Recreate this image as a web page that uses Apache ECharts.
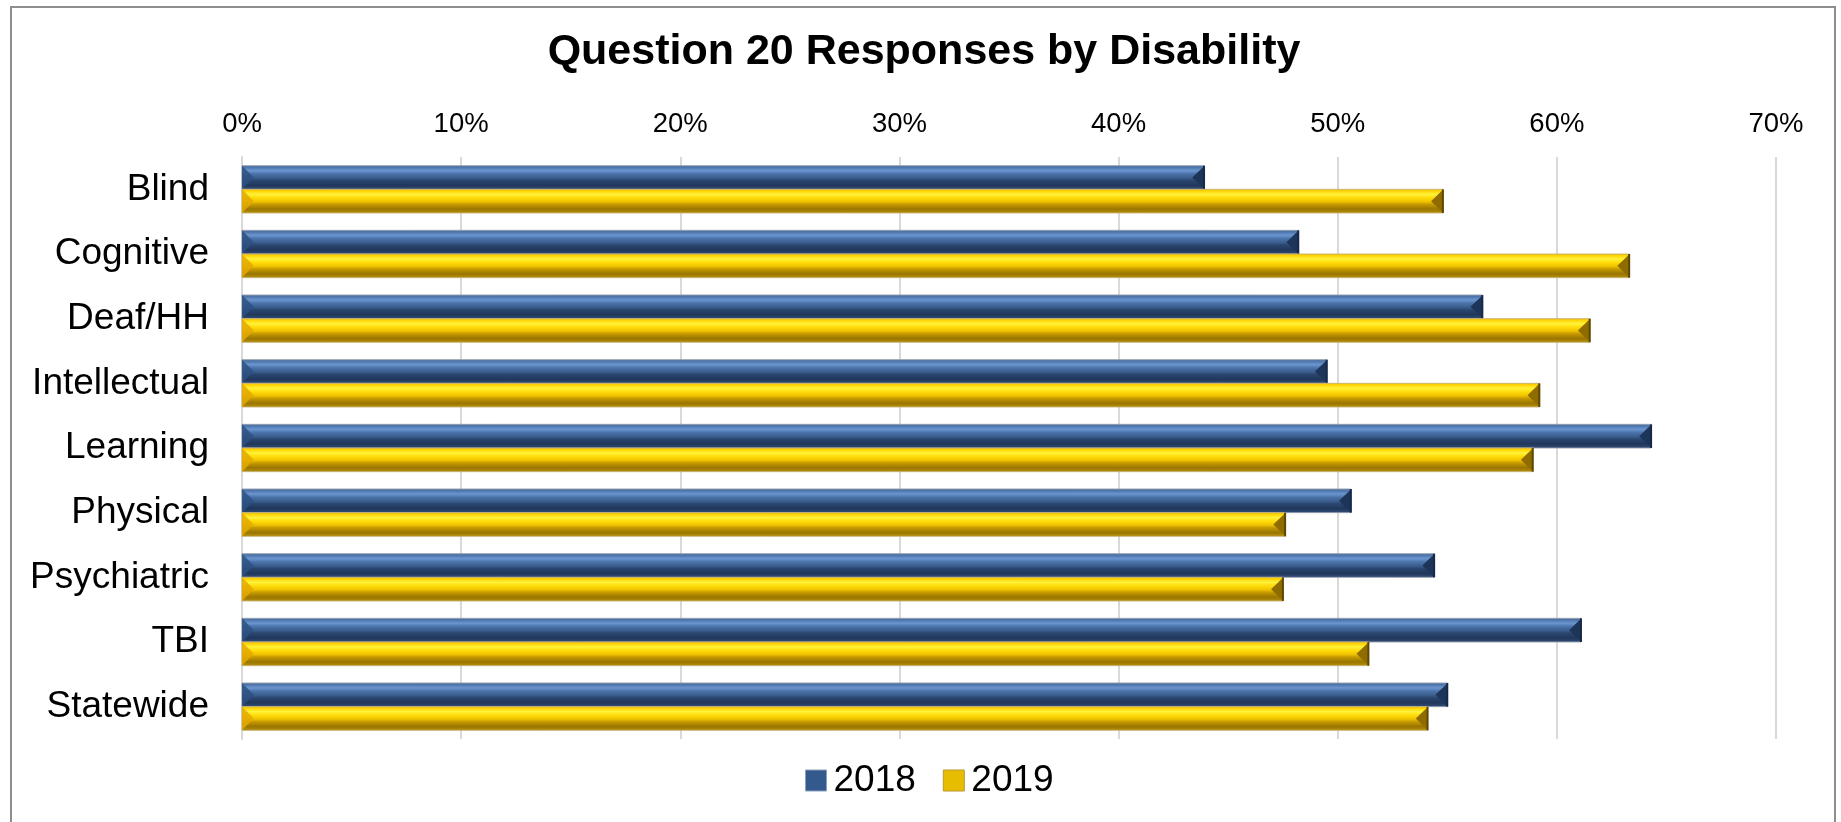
<!DOCTYPE html>
<html>
<head>
<meta charset="utf-8">
<title>Question 20 Responses by Disability</title>
<script src="https://cdn.jsdelivr.net/npm/echarts@6/dist/echarts.min.js"></script>
<style>
  html, body { margin: 0; padding: 0; background: #ffffff; }
  #chart { width: 1841px; height: 822px; }
</style>
</head>
<body>
<div id="chart"></div>
<script>
// Disability groups, top to bottom
const categories = ['Blind', 'Cognitive', 'Deaf/HH', 'Intellectual', 'Learning', 'Physical', 'Psychiatric', 'TBI', 'Statewide'];

// Share of respondents (%) per year
const values2018 = [43.9, 48.2, 56.6, 49.5, 64.3, 50.6, 54.4, 61.1, 55.0];
const values2019 = [54.8, 63.3, 61.5, 59.2, 58.9, 47.6, 47.5, 51.4, 54.1];

const seriesNames = ['2018', '2019'];

// Percentage axis range
const axisMax = 70;
const axisStep = 10;

const FONT = "'Liberation Sans', Arial, sans-serif";

const palettes = {
  blue: {
    body: [
      [0.00, '#4a6c9c'],
      [0.08, '#4d74aa'],
      [0.22, '#6a95cf'],
      [0.36, '#4a72a8'],
      [0.52, '#3a5d8c'],
      [0.62, '#2a4670'],
      [0.82, '#21375a'],
      [1.00, '#34507a']
    ],
    leftCap: '#2d5184',
    rightCap: '#1d3559',
    endLine: '#16294a',
    edge: 'rgba(150,160,175,0.9)',
    legend: '#34598c'
  },
  gold: {
    body: [
      [0.00, '#e8b800'],
      [0.08, '#ffd200'],
      [0.22, '#fff23a'],
      [0.36, '#ffdc0a'],
      [0.52, '#f0c400'],
      [0.62, '#c99c00'],
      [0.82, '#9a7600'],
      [1.00, '#b8900c']
    ],
    leftCap: '#e3a900',
    rightCap: '#8f6c00',
    endLine: '#5e4700',
    edge: 'rgba(200,180,120,0.9)',
    legend: '#e6bd00'
  }
};

// Bevelled bar drawn from the axis scales; side -1 sits above the band centre, +1 below
function bevelBar(side, pal) {
  return function (params, api) {
    const v = api.value(0);
    const idx = api.value(1);
    const start = api.coord([0, idx]);
    const end = api.coord([v, idx]);
    const band = api.size([0, 1])[1];
    const h = band * 0.366;
    const y0 = side < 0 ? start[1] - h : start[1];
    const y1 = y0 + h;
    const ym = y0 + h / 2;
    const x0 = start[0];
    const x1 = end[0];
    const bev = h * 0.5;
    return {
      type: 'group',
      children: [
        {
          type: 'rect',
          shape: { x: x0, y: y0, width: x1 - x0, height: h },
          style: {
            fill: new echarts.graphic.LinearGradient(0, 0, 0, 1,
              pal.body.map(s => ({ offset: s[0], color: s[1] }))),
            stroke: pal.edge,
            lineWidth: 1
          }
        },
        {
          type: 'polygon',
          shape: { points: [[x0, y0], [x0 + bev, ym], [x0, y1]] },
          style: { fill: pal.leftCap, opacity: 0.85 }
        },
        {
          type: 'polygon',
          shape: { points: [[x1, y0 + 0.5], [x1 - bev, ym], [x1, y1 - 0.5]] },
          style: { fill: pal.rightCap }
        },
        {
          type: 'line',
          shape: { x1: x1, y1: y0, x2: x1, y2: y1 },
          style: { stroke: pal.endLine, lineWidth: 2 }
        }
      ]
    };
  };
}

const chart = echarts.init(document.getElementById('chart'), null, { renderer: 'canvas' });

chart.setOption({
  backgroundColor: '#ffffff',
  animation: false,
  title: {
    text: 'Question 20 Responses by Disability',
    left: 924,
    textAlign: 'center',
    top: 31,
    padding: 0,
    textStyle: { fontFamily: FONT, fontSize: 43, fontWeight: 'bold', color: '#000000' }
  },
  legend: {
    data: [
      { name: seriesNames[0], icon: 'rect', itemStyle: { color: palettes.blue.legend, borderColor: '#8aa0bf', borderWidth: 1 } },
      { name: seriesNames[1], icon: 'rect', itemStyle: { color: palettes.gold.legend, borderColor: '#b89a30', borderWidth: 1 } }
    ],
    left: 805,
    top: 762,
    padding: 0,
    itemWidth: 21,
    itemHeight: 21,
    itemGap: 27,
    textStyle: { fontFamily: FONT, fontSize: 37, color: '#000000', padding: [0, 0, 0, 2] },
    selectedMode: false
  },
  grid: { left: 242, right: 65, top: 157, bottom: 83, containLabel: false },
  xAxis: {
    type: 'value',
    position: 'top',
    min: 0,
    max: axisMax,
    interval: axisStep,
    axisLine: { show: false },
    axisTick: { show: false },
    splitLine: { show: true, lineStyle: { color: '#d9d9d9', width: 2 } },
    axisLabel: {
      formatter: '{value}%',
      margin: 19,
      fontFamily: FONT,
      fontSize: 27.5,
      color: '#000000'
    }
  },
  yAxis: {
    type: 'category',
    inverse: true,
    data: categories,
    axisLine: { show: true, lineStyle: { color: '#d9d9d9', width: 2 } },
    axisTick: { show: false },
    splitLine: { show: false },
    axisLabel: {
      margin: 33,
      fontFamily: FONT,
      fontSize: 37,
      color: '#000000'
    }
  },
  graphic: [
    {
      type: 'rect',
      silent: true,
      z: 100,
      shape: { x: 11, y: 7, width: 1824, height: 900 },
      style: { fill: 'none', stroke: '#8e8e8e', lineWidth: 2 }
    }
  ],
  series: [
    {
      name: seriesNames[0],
      type: 'custom',
      renderItem: bevelBar(-1, palettes.blue),
      itemStyle: { color: palettes.blue.legend },
      encode: { x: 0, y: 1 },
      data: values2018.map((v, i) => [v, i])
    },
    {
      name: seriesNames[1],
      type: 'custom',
      renderItem: bevelBar(1, palettes.gold),
      itemStyle: { color: palettes.gold.legend },
      encode: { x: 0, y: 1 },
      data: values2019.map((v, i) => [v, i])
    }
  ]
});
</script>
</body>
</html>
